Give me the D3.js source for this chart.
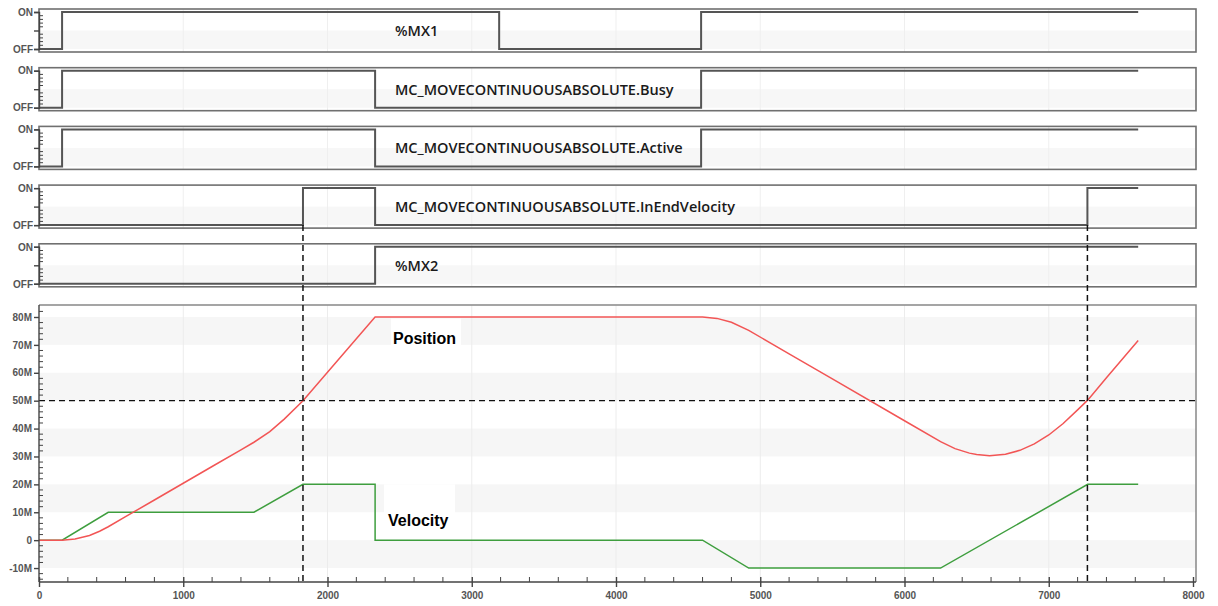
<!DOCTYPE html>
<html>
<head>
<meta charset="utf-8">
<script src="https://cdn.jsdelivr.net/npm/d3@7"></script>
<style>
  html, body { margin: 0; padding: 0; background: #fff; }
  svg { display: block; }
</style>
</head>
<body>
<svg id="chart" width="1218" height="606"></svg>
<script>
// ---- data ----
const tEnd = 7620;
const signalNames = [
  "%MX1",
  "MC_MOVECONTINUOUSABSOLUTE.Busy",
  "MC_MOVECONTINUOUSABSOLUTE.Active",
  "MC_MOVECONTINUOUSABSOLUTE.InEndVelocity",
  "%MX2"
];
// [time, state] change points per signal
const mx1Edges       = [[0, 0], [160, 1], [3190, 0], [4590, 1]];
const busyEdges      = [[0, 0], [160, 1], [2330, 0], [4590, 1]];
const activeEdges    = [[0, 0], [160, 1], [2330, 0], [4590, 1]];
const inEndVelEdges  = [[0, 0], [1830, 1], [2330, 0], [7268, 1]];
const mx2Edges       = [[0, 0], [2330, 1]];

const positionT = [0, 160, 250, 350, 420, 480, 600, 800, 1000, 1200, 1400, 1490, 1600, 1700, 1830,
  2000, 2200, 2330, 4600, 4700, 4800, 4920, 5200, 5500, 6000, 6250, 6350, 6450, 6500, 6590,
  6700, 6800, 6900, 7000, 7100, 7200, 7270, 7400, 7620];
const positionV = [0, 0, 0.4, 1.7, 3.2, 4.8, 8.4, 14.4, 20.4, 26.4, 32.4, 35.1, 38.9, 43.4, 50,
  60.2, 72.2, 80, 80, 79.5, 78.1, 75.2, 66.8, 57.8, 42.8, 35.3, 32.8, 31.2, 30.7, 30.3,
  30.8, 32.2, 34.5, 37.7, 41.8, 46.7, 50.2, 58.2, 71.6];   // millions

const velocityT = [0, 160, 480, 1490, 1830, 2330, 2330, 4600, 4920, 6250, 7270, 7620];
const velocityV = [0, 0, 10, 10, 20, 20, 0, 0, -10, -10, 20, 20];   // millions

const yTicks = [-10, 0, 10, 20, 30, 40, 50, 60, 70, 80];
const yTickLabels = ["-10M", "0", "10M", "20M", "30M", "40M", "50M", "60M", "70M", "80M"];
const xTicks = [0, 1000, 2000, 3000, 4000, 5000, 6000, 7000, 8000];
const refLevel = 50;   // millions

// ---- layout ----
const svg = d3.select("#chart");
const x = d3.scaleLinear().domain([0, 8000]).range([39, 1193]);
const left = 39, right = 1196;
const panelOn0 = 12, panelStep = 58.7, panelH = 37;
const main = { top: 305, bottom: 582 };
const y = d3.scaleLinear().domain([-15, 84.3]).range([main.bottom, main.top]);

const axisColor = "#444", labelColor = "#555", frameColor = "#707070";

// ---- digital panels ----
const edgesList = [mx1Edges, busyEdges, activeEdges, inEndVelEdges, mx2Edges];
const panelScales = [];
signalNames.forEach((name, i) => {
  const on = panelOn0 + i * panelStep, off = on + panelH;
  const yd = d3.scaleLinear().domain([0, 1]).range([off, on]);
  panelScales.push(yd);
  const g = svg.append("g");
  // lower band
  g.append("rect").attr("x", left).attr("y", yd(0.5)).attr("width", right - left)
    .attr("height", yd(0) - yd(0.5)).attr("fill", "#f7f7f7");
  // faint vertical grid
  g.selectAll(".vg").data(xTicks.slice(1, -1)).join("line")
    .attr("x1", d => x(d)).attr("x2", d => x(d))
    .attr("y1", on - 3).attr("y2", off + 3)
    .attr("stroke", "#efefef").attr("stroke-width", 1);
  // frame
  g.append("rect").attr("x", left).attr("y", on - 3).attr("width", right - left)
    .attr("height", panelH + 6).attr("fill", "none")
    .attr("stroke", frameColor).attr("stroke-width", 1.6);
  // signal step line
  const edges = edgesList[i];
  const pts = edges.concat([[tEnd, edges[edges.length - 1][1]]]);
  const line = d3.line().x(d => x(d[0])).y(d => yd(d[1])).curve(d3.curveStepAfter);
  g.append("path").attr("d", line(pts)).attr("fill", "none")
    .attr("stroke", "#555").attr("stroke-width", 2);
  // y axis with ON/OFF
  const ax = d3.axisLeft(yd).tickValues([0, 0.5, 1])
    .tickFormat(d => d === 1 ? "ON" : d === 0 ? "OFF" : "").tickSize(5).tickPadding(1);
  const axg = g.append("g").attr("transform", `translate(${left},0)`).call(ax);
  axg.select(".domain").attr("stroke", axisColor).attr("stroke-width", 1.4);
  axg.selectAll(".tick line").attr("stroke", axisColor).attr("stroke-width", 1.4);
  axg.selectAll(".tick text").attr("fill", labelColor)
    .style("font", "bold 10px 'Liberation Sans', Arial, sans-serif");
  const minor = d3.range(0.1, 1, 0.1).filter(v => Math.abs(v - 0.5) > 0.01);
  g.selectAll(".mt").data(minor).join("line")
    .attr("x1", left).attr("x2", left + 4)
    .attr("y1", d => yd(d)).attr("y2", d => yd(d))
    .attr("stroke", axisColor).attr("stroke-width", 1);
  // signal name
  g.append("text").attr("x", 395).attr("y", (on + off) / 2 + 5.5)
    .text(name).attr("fill", "#1a1a1a")
    .style("font", "600 14.5px 'Open Sans', 'Noto Sans', sans-serif");
});

// ---- analog chart ----
const mg = svg.append("g");
// alternating bands
const bands = [[-10, 0], [10, 20], [30, 40], [50, 60], [70, 80]];
mg.selectAll(".band").data(bands).join("rect")
  .attr("x", left).attr("width", right - left)
  .attr("y", d => y(d[1])).attr("height", d => y(d[0]) - y(d[1]))
  .attr("fill", "#f6f6f6");
// faint vertical grid
mg.selectAll(".vg").data(xTicks.slice(1, -1)).join("line")
  .attr("x1", d => x(d)).attr("x2", d => x(d))
  .attr("y1", main.top).attr("y2", main.bottom)
  .attr("stroke", "#ececec").attr("stroke-width", 1);
// label backdrops
mg.append("rect").attr("x", 391).attr("y", y(79.4)).attr("width", 70).attr("height", 53).attr("fill", "#fff");
mg.append("rect").attr("x", 384).attr("y", y(20)).attr("width", 71).attr("height", 53).attr("fill", "#fff");

// frame (top & right)
mg.append("path")
  .attr("d", `M${left},${main.top}H${right}V${main.bottom}`)
  .attr("fill", "none").attr("stroke", "#888").attr("stroke-width", 1.5);

// reference dashed lines
mg.append("line").attr("x1", left).attr("x2", right)
  .attr("y1", y(refLevel)).attr("y2", y(refLevel))
  .attr("stroke", "#111").attr("stroke-width", 1.3).attr("stroke-dasharray", "6,4");
const markTimes = inEndVelEdges.filter(d => d[1] === 1).map(d => d[0]);
svg.selectAll(".vd").data(markTimes).join("line")
  .attr("x1", d => x(d)).attr("x2", d => x(d))
  .attr("y1", panelScales[3](0)).attr("y2", main.bottom)
  .attr("stroke", "#111").attr("stroke-width", 1.5).attr("stroke-dasharray", "6,4");

// series
const posLine = d3.line().x((d, i) => x(positionT[i])).y(d => y(d));
const velLine = d3.line().x((d, i) => x(velocityT[i])).y(d => y(d));
mg.append("path").attr("d", velLine(velocityV)).attr("fill", "none")
  .attr("stroke", "#3e9e3e").attr("stroke-width", 1.5);
mg.append("path").attr("d", posLine(positionV)).attr("fill", "none")
  .attr("stroke", "#f25555").attr("stroke-width", 1.5);

// series labels
mg.append("text").attr("x", 393).attr("y", 344).text("Position")
  .attr("fill", "#000").style("font", "bold 16px 'Liberation Sans', Arial, sans-serif");
mg.append("text").attr("x", 388).attr("y", 526).text("Velocity")
  .attr("fill", "#000").style("font", "bold 16px 'Liberation Sans', Arial, sans-serif");

// y axis
const yAx = d3.axisLeft(y).tickValues(yTicks)
  .tickFormat((d, i) => yTickLabels[i]).tickSize(5).tickPadding(2);
const yg = mg.append("g").attr("transform", `translate(${left},0)`).call(yAx);
yg.select(".domain").attr("d", `M0,${main.top}V${main.bottom}`).attr("stroke", axisColor).attr("stroke-width", 1.4);
yg.selectAll(".tick line").attr("stroke", axisColor).attr("stroke-width", 1.4);
yg.selectAll(".tick text").attr("fill", labelColor)
  .style("font", "bold 10px 'Liberation Sans', Arial, sans-serif");
const yMinor = d3.range(-14, 84, 2).filter(v => v % 10 !== 0);
mg.selectAll(".ym").data(yMinor).join("line")
  .attr("x1", left).attr("x2", left + 4)
  .attr("y1", d => y(d)).attr("y2", d => y(d))
  .attr("stroke", axisColor).attr("stroke-width", 1);

// x axis
const xAx = d3.axisBottom(x).tickValues(xTicks).tickFormat(d3.format("d")).tickSize(5).tickPadding(5);
const xg = mg.append("g").attr("transform", `translate(0,${main.bottom})`).call(xAx);
xg.select(".domain").attr("d", `M${left},0H${right}`).attr("stroke", axisColor).attr("stroke-width", 1.4);
xg.selectAll(".tick line").attr("y1", -5).attr("y2", 5).attr("stroke", axisColor).attr("stroke-width", 1.4);
xg.selectAll(".tick text").attr("fill", labelColor)
  .style("font", "bold 10px 'Liberation Sans', Arial, sans-serif");
const xMinor = d3.range(200, 8000, 200).filter(v => v % 1000 !== 0);
mg.selectAll(".xm").data(xMinor).join("line")
  .attr("x1", d => x(d)).attr("x2", d => x(d))
  .attr("y1", main.bottom).attr("y2", main.bottom - 5)
  .attr("stroke", axisColor).attr("stroke-width", 1);
</script>
</body>
</html>
